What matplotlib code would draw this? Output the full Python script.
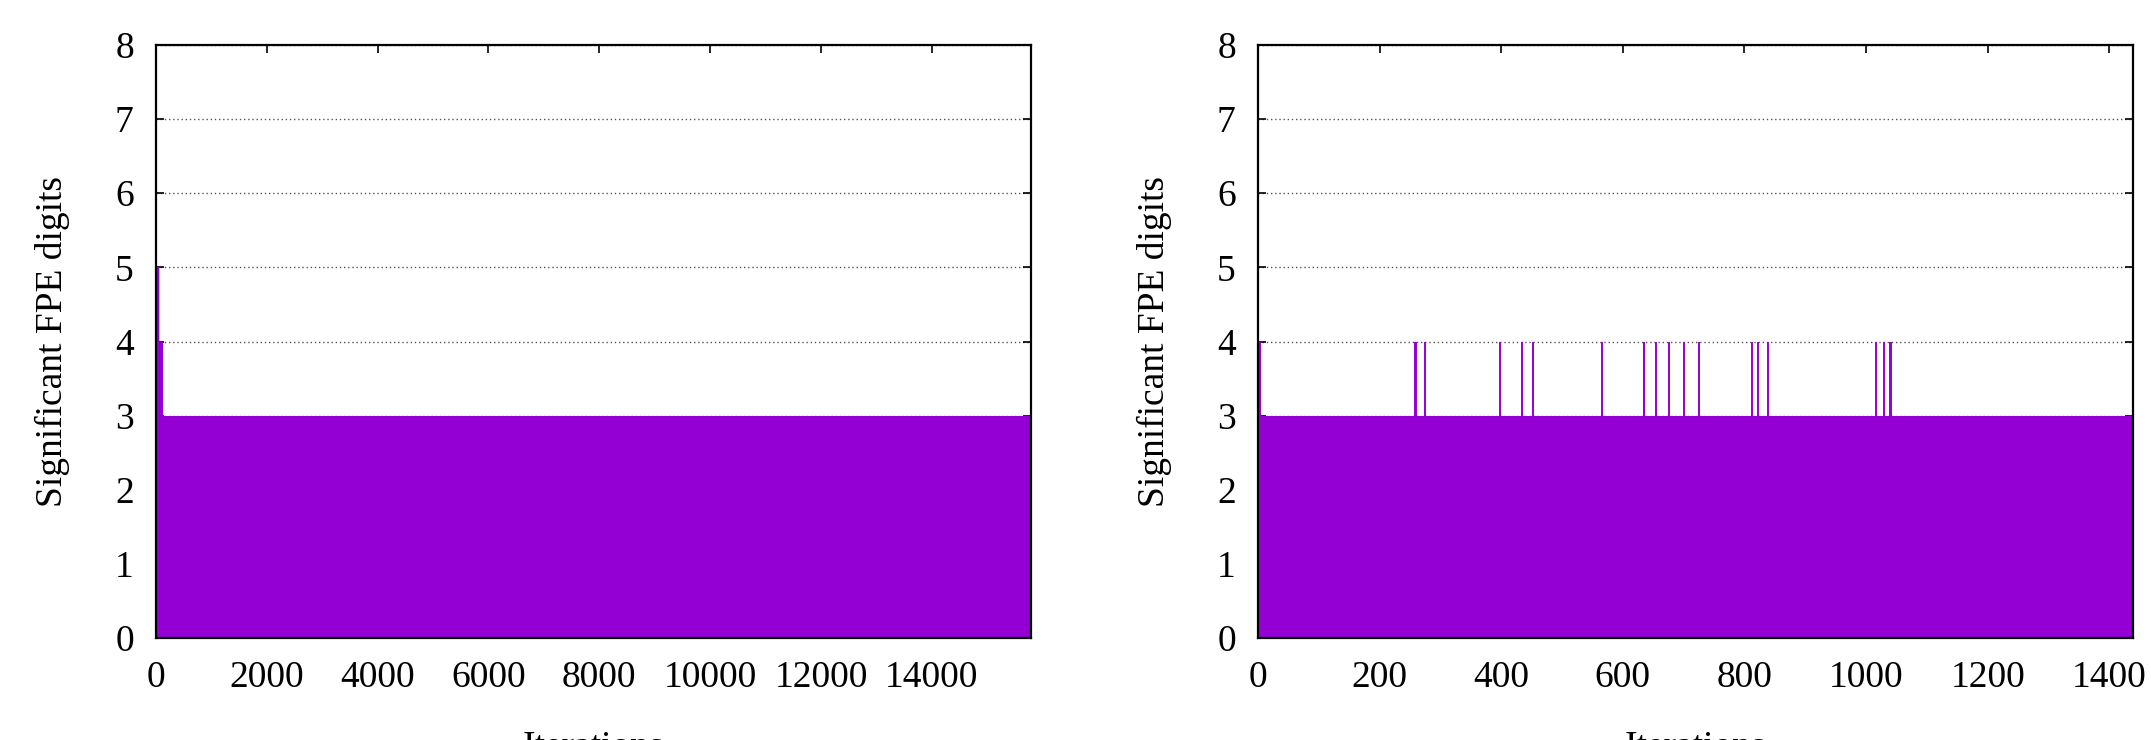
import numpy as np
import matplotlib
matplotlib.use("Agg")
import matplotlib.pyplot as plt

# ---------------- data ----------------
# Left panel: step levels (start iteration, significant digits)
left_n_iterations = 15790
left_step_starts = [0, 30, 100]
left_step_values = [5, 4, 3]

# Right panel: baseline level with spikes to 4 at these iterations
right_n_iterations = 1439
right_base_value = 3
right_spike_iters = [0, 1, 2, 3, 259, 260, 275, 398, 434, 452, 565, 634, 635,
                     654, 676, 701, 725, 813, 822, 838, 1017, 1029, 1039, 1040, 1041]
right_spike_value = 4

left_xticks = [0, 2000, 4000, 6000, 8000, 10000, 12000, 14000]
right_xticks = [0, 200, 400, 600, 800, 1000, 1200, 1400]
yticks = [0, 1, 2, 3, 4, 5, 6, 7, 8]
xlabel = "Iterations"
ylabel = "Significant FPE digits"

# ---------------- series ----------------
left_x = np.arange(left_n_iterations)
left_y = np.zeros(left_n_iterations)
for s, v in zip(left_step_starts, left_step_values):
    left_y[s:] = v

right_x = np.arange(right_n_iterations)
right_y = np.full(right_n_iterations, right_base_value, dtype=float)
right_y[right_spike_iters] = right_spike_value

# ---------------- figure ----------------
W, H = 2151, 740
DPI = 100
plt.rcParams['font.family'] = ['Liberation Serif', 'DejaVu Serif']
fig = plt.figure(figsize=(W / DPI, H / DPI), dpi=DPI)

COLOR = '#9400D3'
FS = 27

def make_ax(x0, x1, y0, y1):
    return fig.add_axes([x0 / W, 1 - y1 / H, (x1 - x0) / W, (y1 - y0) / H])

axL = make_ax(156, 1031, 45, 638)
axR = make_ax(1258, 2133, 45, 638)

for ax, x, y, xt, xmax, lw in [(axL, left_x, left_y, left_xticks, left_n_iterations, 1.0),
                                (axR, right_x, right_y, right_xticks, right_n_iterations, 1.4)]:
    ax.vlines(x, 0, y, colors=COLOR, linewidth=lw, zorder=2)
    ax.set_xlim(0, xmax)
    ax.set_ylim(0, 8)
    ax.set_xticks(xt)
    ax.set_xticklabels([str(t) for t in xt])
    ax.set_yticks(yticks)
    ax.set_yticklabels([str(t) for t in yticks])
    ax.tick_params(direction='in', length=6, width=1.2, top=True, right=True,
                   labelsize=FS, color='black')
    ax.tick_params(axis='x', pad=16)
    ax.tick_params(axis='y', pad=16)
    ax.grid(axis='y', linestyle=(0, (1, 2)), color='#555555', linewidth=1.0, zorder=1)
    ax.set_axisbelow(True)
    for sp in ax.spines.values():
        sp.set_linewidth(1.6)
        sp.set_color('black')
        sp.set_zorder(5)
    ax.set_xlabel(xlabel, fontsize=FS, labelpad=26)
    ax.set_ylabel(ylabel, fontsize=FS, labelpad=32)

fig.savefig("out.png", dpi=DPI)
